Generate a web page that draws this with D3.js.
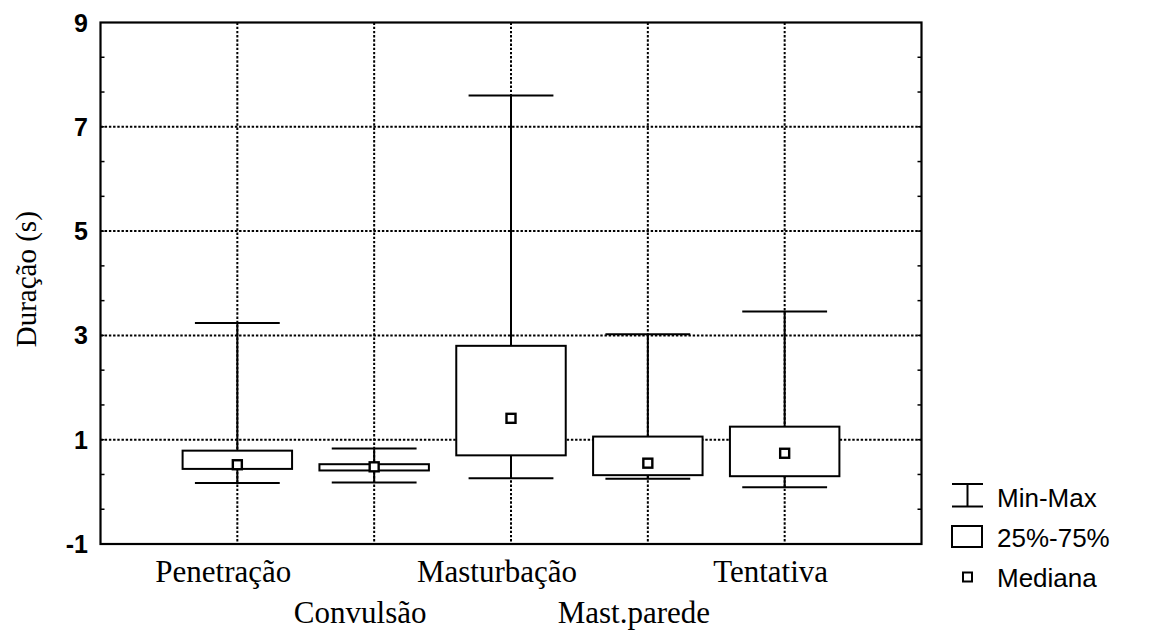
<!DOCTYPE html>
<html>
<head>
<meta charset="utf-8">
<script src="https://cdn.jsdelivr.net/npm/d3@7"></script>
<style>
  html, body { margin: 0; padding: 0; background: #fff; }
  svg { display: block; }
</style>
</head>
<body>
<svg id="chart" width="1168" height="635"></svg>
<script>
// Duration (s) per behaviour: min, quartiles, median, max
const categories = ["Penetração", "Convulsão", "Masturbação", "Mast.parede", "Tentativa"];
const minValues    = [0.17, 0.18, 0.26, 0.25, 0.09];
const q1Values     = [0.44, 0.41, 0.70, 0.32, 0.30];
const medianValues = [0.52, 0.48, 1.41, 0.55, 0.74];
const q3Values     = [0.79, 0.53, 2.80, 1.06, 1.25];
const maxValues    = [3.24, 0.83, 7.60, 3.02, 3.46];
const yTicks = [-1, 1, 3, 5, 7, 9];
const legendLabels = ["Min-Max", "25%-75%", "Mediana"];

const rows = categories.map((c, i) => ({
  name: c, pos: i + 1,
  min: minValues[i], q1: q1Values[i], med: medianValues[i], q3: q3Values[i], max: maxValues[i]
}));

const svg = d3.select("#chart");
const plotLeft = 100.5, plotRight = 921.5, plotTop = 22.5, plotBottom = 544;

const x = d3.scaleLinear().domain([0, categories.length + 1]).range([plotLeft, plotRight]);
const y = d3.scaleLinear().domain([-1, 9]).range([plotBottom, plotTop]);

const step = x(1) - x(0);
const boxW = step * 0.8;
const capW = step * 0.62;

const dotted = { width: 2, dash: "2.4,1.8" };

// grid lines
const grid = svg.append("g");
grid.selectAll("line.h").data(yTicks.filter(t => t > -1 && t < 9)).join("line")
  .attr("x1", plotLeft).attr("x2", plotRight)
  .attr("y1", d => y(d)).attr("y2", d => y(d))
  .attr("stroke", "#000").attr("stroke-width", dotted.width)
  .attr("stroke-dasharray", dotted.dash);
grid.selectAll("line.v").data(rows).join("line")
  .attr("x1", d => x(d.pos)).attr("x2", d => x(d.pos))
  .attr("y1", plotTop).attr("y2", plotBottom)
  .attr("stroke", "#000").attr("stroke-width", dotted.width)
  .attr("stroke-dasharray", dotted.dash);

// min-max whiskers
const boxes = svg.append("g");
boxes.selectAll("line.upper").data(rows).join("line")
  .attr("x1", d => x(d.pos)).attr("x2", d => x(d.pos))
  .attr("y1", d => y(d.max)).attr("y2", d => y(d.min))
  .attr("stroke", "#000").attr("stroke-width", 2);
boxes.selectAll("line.capmax").data(rows).join("line")
  .attr("x1", d => x(d.pos) - capW / 2).attr("x2", d => x(d.pos) + capW / 2)
  .attr("y1", d => y(d.max)).attr("y2", d => y(d.max))
  .attr("stroke", "#000").attr("stroke-width", 2);
boxes.selectAll("line.capmin").data(rows).join("line")
  .attr("x1", d => x(d.pos) - capW / 2).attr("x2", d => x(d.pos) + capW / 2)
  .attr("y1", d => y(d.min)).attr("y2", d => y(d.min))
  .attr("stroke", "#000").attr("stroke-width", 2);

// interquartile boxes
boxes.selectAll("rect.iqr").data(rows).join("rect")
  .attr("x", d => x(d.pos) - boxW / 2).attr("width", boxW)
  .attr("y", d => y(d.q3)).attr("height", d => y(d.q1) - y(d.q3))
  .attr("fill", "#fff").attr("stroke", "#000").attr("stroke-width", 2);

// median markers
const ms = 9;
boxes.selectAll("rect.med").data(rows).join("rect")
  .attr("x", d => x(d.pos) - ms / 2).attr("y", d => y(d.med) - ms / 2)
  .attr("width", ms).attr("height", ms)
  .attr("fill", "#fff").attr("stroke", "#000").attr("stroke-width", 2.4);

// frame
svg.append("rect")
  .attr("x", plotLeft).attr("y", plotTop)
  .attr("width", plotRight - plotLeft).attr("height", plotBottom - plotTop)
  .attr("fill", "none").attr("stroke", "#000").attr("stroke-width", 2.2);

// minor ticks every 2/3 unit on both vertical axes
const minor = d3.range(1, 15).map(i => -1 + i * 2 / 3);
svg.append("g").selectAll("line").data(minor).join("line")
  .attr("x1", plotLeft).attr("x2", plotLeft + 4)
  .attr("y1", d => y(d)).attr("y2", d => y(d))
  .attr("stroke", "#000").attr("stroke-width", 1.5);
svg.append("g").selectAll("line").data(minor).join("line")
  .attr("x1", plotRight - 4).attr("x2", plotRight)
  .attr("y1", d => y(d)).attr("y2", d => y(d))
  .attr("stroke", "#000").attr("stroke-width", 1.5);

// y tick labels
svg.append("g").selectAll("text").data(yTicks).join("text")
  .attr("x", 88).attr("y", d => y(d) + 9)
  .attr("text-anchor", "end")
  .attr("font-family", "'Liberation Sans', Arial, sans-serif")
  .attr("font-weight", "bold").attr("font-size", 25)
  .text(d => d);

// y axis title
svg.append("text")
  .attr("transform", `translate(36,${(plotTop + plotBottom) / 2 - 4}) rotate(-90)`)
  .attr("text-anchor", "middle")
  .attr("font-family", "'Liberation Serif', 'Times New Roman', serif")
  .attr("font-size", 29)
  .text("Duração (s)");

// category labels, staggered on two rows
svg.append("g").selectAll("text").data(rows).join("text")
  .attr("x", d => x(d.pos) - 14)
  .attr("y", d => d.pos % 2 === 1 ? 582 : 623)
  .attr("text-anchor", "middle")
  .attr("font-family", "'Liberation Serif', 'Times New Roman', serif")
  .attr("font-size", 31)
  .text(d => d.name);

// legend
const lg = svg.append("g").attr("stroke", "#000").attr("fill", "none").attr("stroke-width", 2);
lg.append("line").attr("x1", 952).attr("x2", 983).attr("y1", 484).attr("y2", 484);
lg.append("line").attr("x1", 952).attr("x2", 983).attr("y1", 506.5).attr("y2", 506.5);
lg.append("line").attr("x1", 967.5).attr("x2", 967.5).attr("y1", 484).attr("y2", 506.5);
lg.append("rect").attr("x", 952).attr("y", 526).attr("width", 30).attr("height", 21).attr("fill", "#fff");
lg.append("rect").attr("x", 963).attr("y", 572.5).attr("width", 9).attr("height", 9).attr("fill", "#fff");

svg.append("g").selectAll("text").data(legendLabels).join("text")
  .attr("x", 997).attr("y", (d, i) => 506.5 + i * 40)
  .attr("font-family", "'Liberation Sans', Arial, sans-serif")
  .attr("font-size", 26)
  .text(d => d);
</script>
</body>
</html>
